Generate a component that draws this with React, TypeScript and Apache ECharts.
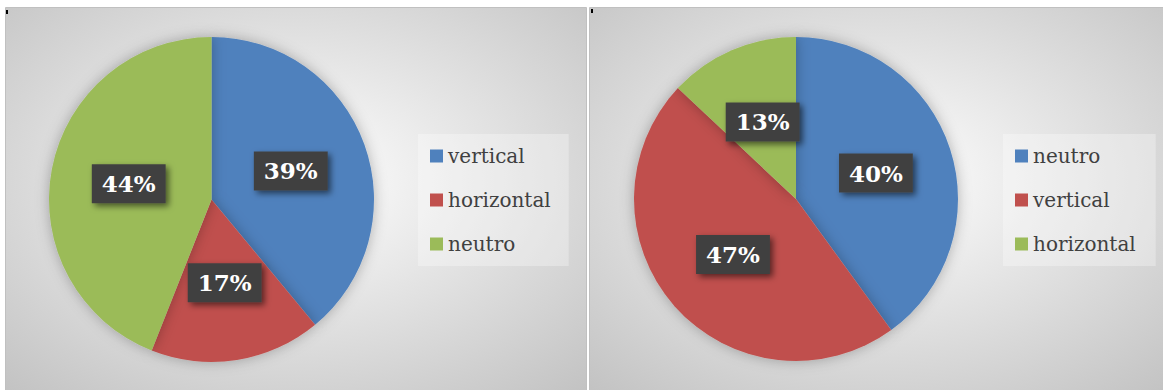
import React, { useEffect, useRef } from "react";
import * as echarts from "echarts";

const colors = ["#4f81bd", "#c0504d", "#9bbb59"];
const names1 = ["vertical", "horizontal", "neutro"];
const values1 = [39, 17, 44];
const names2 = ["neutro", "vertical", "horizontal"];
const values2 = [40, 47, 13];

const FONT = "'DejaVu Serif', serif";

function bg(x: number, y: number, w: number, h: number) {
  return {
    type: "rect",
    z: -10,
    shape: { x, y, width: w, height: h },
    style: {
      fill: new echarts.graphic.RadialGradient(0.5, 0.45, 0.75, [
        { offset: 0, color: "#ffffff" },
        { offset: 1, color: "#c2c2c2" },
      ]),
      stroke: "#c0c0c0",
      lineWidth: 1,
    },
  };
}

function pie(names: string[], values: number[], cx: number, cy: number, r: number) {
  return {
    type: "pie",
    center: [cx, cy],
    radius: [0, r],
    startAngle: 90,
    clockwise: true,
    avoidLabelOverlap: false,
    itemStyle: {
      borderWidth: 0,
      shadowColor: "rgba(0,0,0,0.28)",
      shadowBlur: 14,
    },
    label: {
      show: true,
      position: "inside",
      formatter: (p: any) => p.value + "%",
      color: "#ffffff",
      fontFamily: FONT,
      fontWeight: "bold",
      fontSize: 23,
      lineHeight: 27,
      backgroundColor: "#404040",
      padding: [6, 10],
      shadowColor: "rgba(0,0,0,0.55)",
      shadowBlur: 6,
      shadowOffsetX: 3,
      shadowOffsetY: 3,
    },
    labelLine: { show: false },
    emphasis: { disabled: true },
    data: names.map((n, i) => ({ name: n, value: values[i], itemStyle: { color: colors[i] } })),
  };
}

function legend(names: string[], left: number, top: number, padRight: number) {
  return {
    orient: "vertical",
    left,
    top,
    data: names.map((n, i) => ({ name: n, itemStyle: { color: colors[i] } })),
    icon: "rect",
    itemWidth: 13,
    itemHeight: 13,
    itemGap: 20,
    padding: [10, padRight, 10, 12],
    backgroundColor: "rgba(255,255,255,0.3)",
    textStyle: { fontFamily: FONT, fontSize: 20, color: "#404040", lineHeight: 24 },
    selectedMode: false,
  };
}

export default function App() {
  const ref = useRef<HTMLDivElement>(null);
  useEffect(() => {
    document.body.style.margin = "0";
    const chart = echarts.init(ref.current!, null, { renderer: "svg" });
    chart.setOption({
      animation: false,
      backgroundColor: "#ffffff",
      graphic: [
        bg(5.5, 7.5, 581, 383),
        bg(589.5, 7.5, 580, 383),
        { type: "rect", z: 10, shape: { x: 6, y: 10, width: 2, height: 4 }, style: { fill: "#000" } },
        { type: "rect", z: 10, shape: { x: 591, y: 9, width: 2, height: 4 }, style: { fill: "#000" } },
      ],
      legend: [legend(names1, 418, 134, 18), legend(names2, 1003, 134, 20)],
      series: [pie(names1, values1, 211.5, 199.5, 162.5), pie(names2, values2, 796, 199, 162)],
    });
    return () => chart.dispose();
  }, []);
  return <div ref={ref} style={{ width: 1163, height: 390 }} />;
}
